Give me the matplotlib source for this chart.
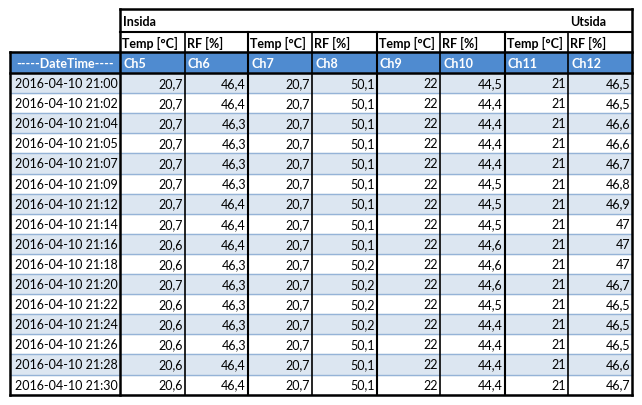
import matplotlib
matplotlib.use("Agg")
import matplotlib.pyplot as plt
from matplotlib.patches import Rectangle

times = ["21:00","21:02","21:04","21:05","21:07","21:09","21:12","21:14","21:16","21:18","21:20","21:22","21:24","21:26","21:28","21:30"]
date = "2016-04-10"
ch5 = ["20,7"]*8 + ["20,6","20,6","20,7","20,6","20,6","20,6","20,6","20,6"]
ch6 = ["46,4","46,4","46,3","46,3","46,3","46,3","46,4","46,4","46,4","46,3","46,3","46,3","46,3","46,3","46,4","46,4"]
ch7 = ["20,7"]*16
ch8 = ["50,1"]*9 + ["50,2","50,2","50,2","50,2","50,1","50,1","50,1"]
ch9 = ["22"]*16
ch10 = ["44,5","44,4","44,4","44,4","44,4","44,5","44,5","44,5","44,6","44,6","44,6","44,5","44,4","44,4","44,4","44,4"]
ch11 = ["21"]*16
ch12 = ["46,5","46,5","46,6","46,6","46,7","46,8","46,9","47","47","47","46,7","46,5","46,5","46,5","46,6","46,7"]
channels = ["Ch5","Ch6","Ch7","Ch8","Ch9","Ch10","Ch11","Ch12"]
units = ["Temp [°C]","RF [%]"]*4

cols = [ch5,ch6,ch7,ch8,ch9,ch10,ch11,ch12]
xb = [10,120,185,248,312,377,440,505,568,632]
FONT = "Lato"
fs = 9

fig = plt.figure(figsize=(6.42,4.06), dpi=100)
ax = fig.add_axes([0,0,1,1])
ax.set_xlim(0,642); ax.set_ylim(406,0); ax.axis("off")

y_hdr0, y_hdr1, y_hdr2, y_data = 10, 33, 53, 74
rh = 20.1
n = len(times)
ybot = y_data + n*rh

# header rows
ax.text(123, (y_hdr0+y_hdr1)/2, "Insida", fontsize=fs, fontweight="bold", va="center", family=FONT)
ax.text(570, (y_hdr0+y_hdr1)/2, "Utsida", fontsize=fs, fontweight="bold", va="center", family=FONT)
for i,u in enumerate(units):
    ax.text(xb[i+1]+2, (y_hdr1+y_hdr2)/2, u, fontsize=fs, fontweight="bold", va="center", family=FONT)
ax.add_patch(Rectangle((xb[0], y_hdr2), xb[-1]-xb[0], y_data-y_hdr2, color="#4F8BD0", zorder=0))
ax.text(65, (y_hdr2+y_data)/2, "-----DateTime----", fontsize=fs, fontweight="bold", color="white", va="center", ha="center", family=FONT)
for i,c in enumerate(channels):
    ax.text(xb[i+1]+3, (y_hdr2+y_data)/2, c, fontsize=fs, fontweight="bold", color="white", va="center", family=FONT)

# data rows
for r in range(n):
    y0 = y_data + r*rh
    if r % 2 == 0:
        ax.add_patch(Rectangle((xb[0], y0), xb[-1]-xb[0], rh, color="#DCE6F1", zorder=0))
    ax.plot([xb[0], xb[-1]], [y0+rh, y0+rh], color="#95B3D7", lw=1, zorder=1)
    ym = y0 + rh/2
    ax.text(xb[1]-2, ym, f"{date} {times[r]}", fontsize=fs, ha="right", va="center", family=FONT)
    for i,col in enumerate(cols):
        ax.text(xb[i+2]-2, ym, col[r], fontsize=fs, ha="right", va="center", family=FONT)

# borders
k = dict(color="black", zorder=3)
ax.plot([xb[1], xb[-1]], [y_hdr0, y_hdr0], lw=1.8, **k)
ax.plot([xb[1], xb[-1]], [y_hdr1, y_hdr1], lw=1.5, **k)
ax.plot([xb[0], xb[-1]], [y_hdr2, y_hdr2], lw=1.8, **k)
ax.plot([xb[0], xb[-1]], [y_data, y_data], lw=1.8, **k)
ax.plot([xb[0], xb[-1]], [ybot, ybot], lw=1.8, **k)
ax.plot([xb[0], xb[0]], [y_hdr2, ybot], lw=1.8, **k)
ax.plot([xb[1], xb[1]], [y_hdr0, ybot], lw=1.8, **k)
ax.plot([xb[-1], xb[-1]], [y_hdr0, ybot], lw=1.8, **k)
for j in range(2, len(xb)-1):
    ax.plot([xb[j], xb[j]], [y_hdr1, ybot], lw=1.5 if j % 2 == 1 else 1.2, **k)

fig.savefig("out.png", dpi=100)
